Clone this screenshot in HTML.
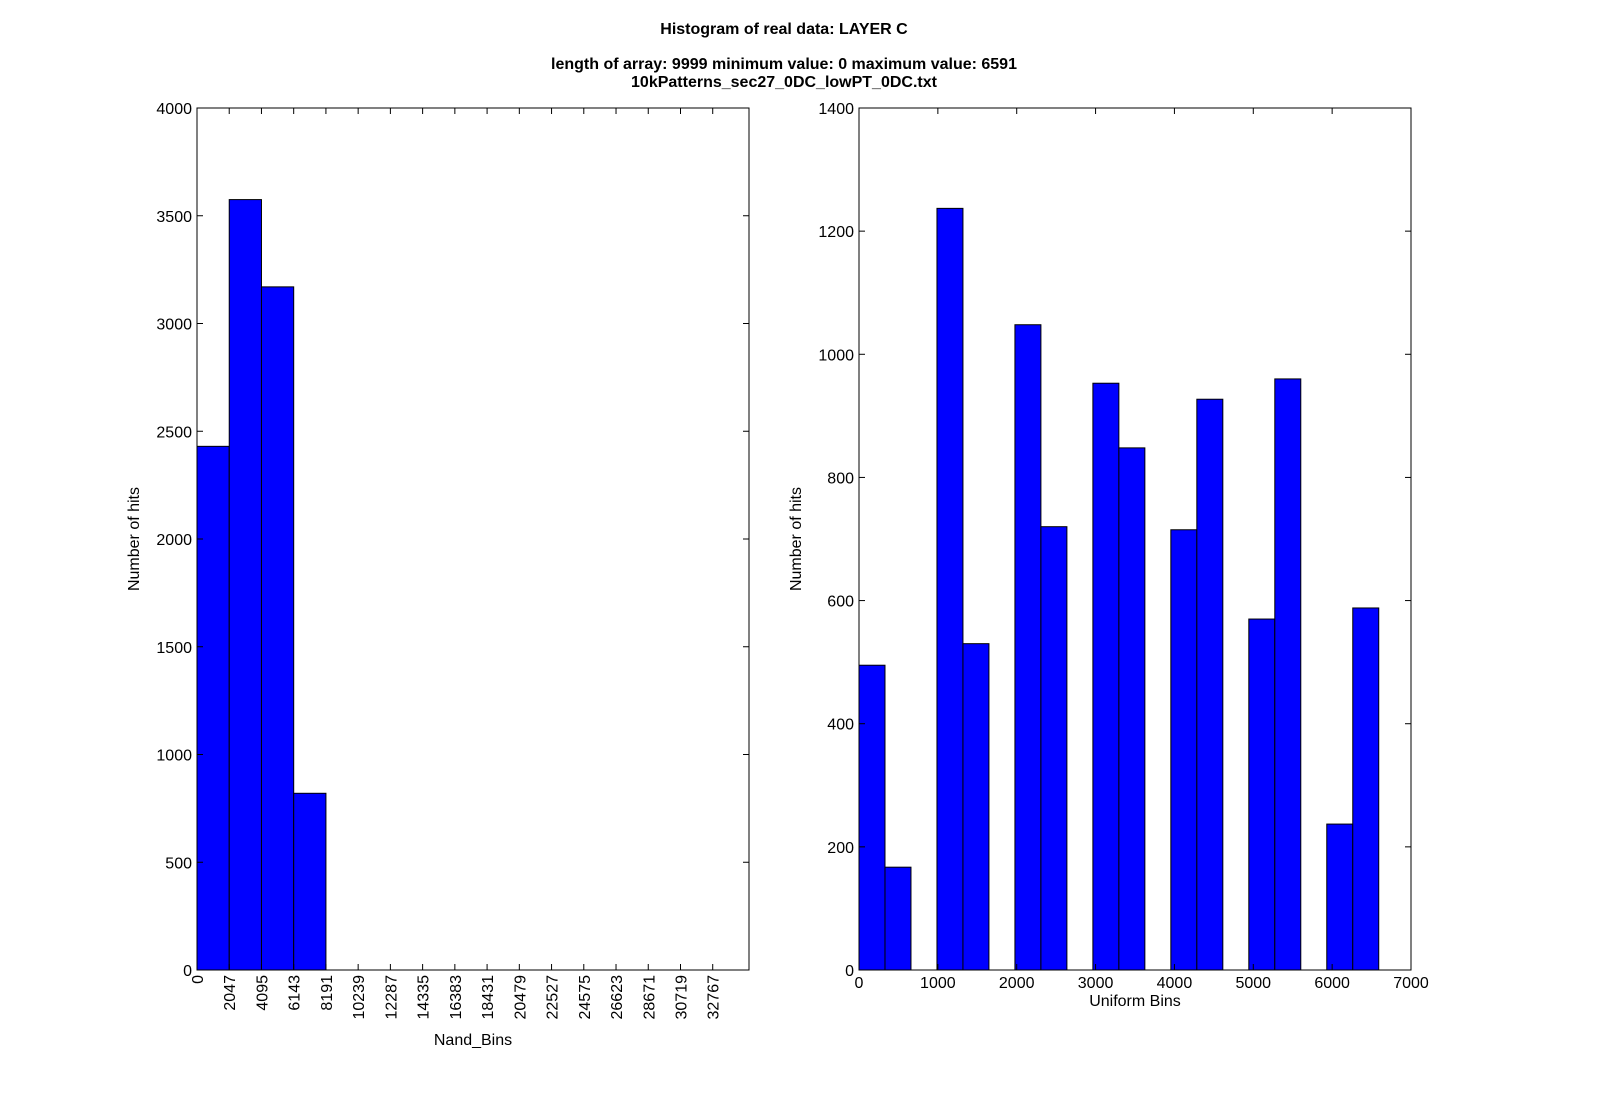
<!DOCTYPE html>
<html><head><meta charset="utf-8"><style>
body{margin:0;background:#fff}
svg text{font-family:"Liberation Sans","DejaVu Sans",sans-serif;fill:#000}
</style></head><body>
<svg id="chart" width="1600" height="1100" viewBox="0 0 1600 1100" xmlns="http://www.w3.org/2000/svg">
<text x="784" y="34" font-size="16" font-weight="bold" text-anchor="middle">Histogram of real data: LAYER C</text>
<text x="784" y="69" font-size="16" font-weight="bold" text-anchor="middle">length of array: 9999 minimum value: 0 maximum value: 6591</text>
<text x="784" y="87" font-size="16" font-weight="bold" text-anchor="middle">10kPatterns_sec27_0DC_lowPT_0DC.txt</text>
<g id="left"></g>
<g id="right"></g>
</svg>
<script>
const nandEdges = [0,2048,4096,6144,8192,10240,12288,14336,16384,18432,20480,22528,24576,26624,28672,30720,32768,34816];
const nandCounts = [2430,3575,3170,820,0,0,0,0,0,0,0,0,0,0,0,0,0];
const nandXTicks = [0,2047,4095,6143,8191,10239,12287,14335,16383,18431,20479,22527,24575,26623,28671,30719,32767];
const nandYTicks = [0,500,1000,1500,2000,2500,3000,3500,4000];
const uniCounts = [495,167,0,1237,530,0,1048,720,0,953,848,0,715,927,0,570,960,0,237,588];
const uniMin = 0, uniMax = 6591;
const uniXTicks = [0,1000,2000,3000,4000,5000,6000,7000];
const uniYTicks = [0,200,400,600,800,1000,1200,1400];
const NS="http://www.w3.org/2000/svg";
function mk(parent,tag,attrs,text){const e=document.createElementNS(NS,tag);for(const k in attrs)e.setAttribute(k,attrs[k]);if(text!==undefined)e.textContent=text;parent.appendChild(e);return e;}
function panel(g,L,T,W,H,xmax,ymax,edges,counts,xticks,yticks,rot,xlabel){
  const sx=v=>L+v/xmax*W, sy=v=>T+H-v/ymax*H;
  for(let i=0;i<counts.length;i++){
    const x0=sx(edges[i]),x1=sx(edges[i+1]),y=sy(counts[i]);
    const r=mk(g,'rect',{x:x0,y:y,width:x1-x0,height:T+H-y,fill:'#0000ff',stroke:'#000','stroke-width':1});
    
    
  }
  const f=mk(g,'rect',{x:L,y:T,width:W,height:H,fill:'none',stroke:'#000','stroke-width':1});
  
  
  xticks.forEach(v=>{const x=sx(v);
    mk(g,'line',{x1:x,x2:x,y1:T+H,y2:T+H-6,stroke:'#000'});
    mk(g,'line',{x1:x,x2:x,y1:T,y2:T+6,stroke:'#000'});
    let t;
    if(rot){t=mk(g,'text',{x:x+6,y:T+H+5,'font-size':16,'text-anchor':'end',transform:`rotate(-90 ${x+6} ${T+H+5})`},String(v));}
    else{t=mk(g,'text',{x:x,y:T+H+18,'font-size':16,'text-anchor':'middle'},String(v));}
    
    
  });
  yticks.forEach(v=>{const y=sy(v);
    mk(g,'line',{x1:L,x2:L+6,y1:y,y2:y,stroke:'#000'});
    mk(g,'line',{x1:L+W,x2:L+W-6,y1:y,y2:y,stroke:'#000'});
    const t=mk(g,'text',{x:L-5,y:y+6,'font-size':16,'text-anchor':'end'},String(v));
    
    
  });
  const yl=mk(g,'text',{x:L-58,y:T+H/2,'font-size':16,'text-anchor':'middle',transform:`rotate(-90 ${L-58} ${T+H/2})`},'Number of hits');
  
  
  const xl=mk(g,'text',{x:L+W/2,y:rot?T+H+75:T+H+36,'font-size':16,'text-anchor':'middle'},xlabel);
  
  
}
panel(document.getElementById('left'),197,108,552,862,35072,4000,nandEdges,nandCounts,nandXTicks,nandYTicks,true,'Nand_Bins');
const uniEdges=[];for(let i=0;i<=uniCounts.length;i++)uniEdges.push(uniMin+(uniMax-uniMin)*i/uniCounts.length);
panel(document.getElementById('right'),859,108,552,862,7000,1400,uniEdges,uniCounts,uniXTicks,uniYTicks,false,'Uniform Bins');
</script>
</body></html>
